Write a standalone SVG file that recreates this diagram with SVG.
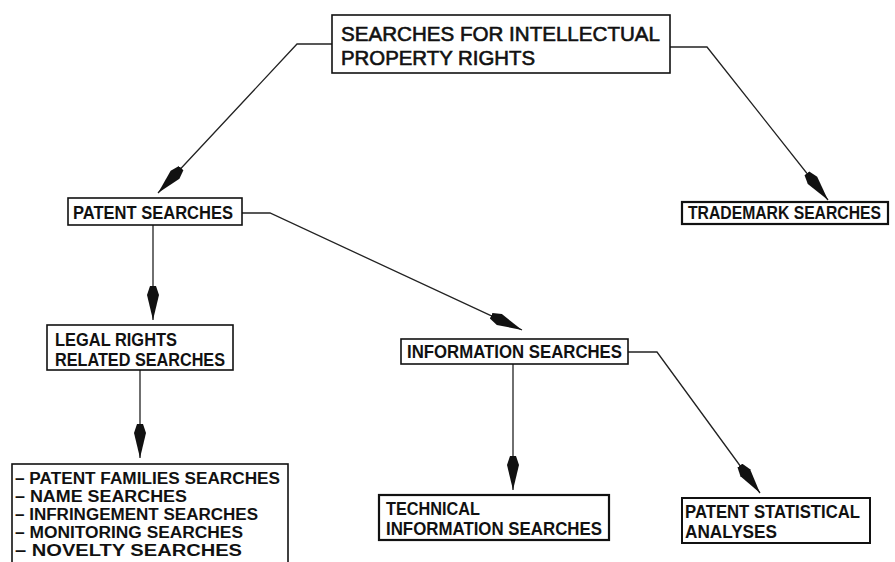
<svg xmlns="http://www.w3.org/2000/svg" width="895" height="562" viewBox="0 0 895 562">
  <style>
    .box { fill: #ffffff; stroke: #111; stroke-width: 1.6; }
    .lbl { font-family: "Liberation Sans", "DejaVu Sans", sans-serif; font-weight: bold; fill: #111; font-size: 18px; }
    .title { font-size: 20px; font-weight: normal; stroke: #111; stroke-width: 0.6; }
    .list { font-size: 16px; }
    .edge { fill: none; stroke: #222; stroke-width: 1.3; }
  </style>
  <defs>
    <marker id="spear" markerUnits="userSpaceOnUse" markerWidth="36" markerHeight="14" refX="34" refY="6.5" orient="auto">
      <path d="M0,3.5 L9,0.5 L34,6.5 L9,12.5 L0,9.5 Z" fill="#111"/>
    </marker>
  </defs>
  <rect width="895" height="562" fill="#ffffff"/>

  <!-- connectors -->
  <g id="connectors">
    <polyline class="edge" points="332,44 297,44 158,193" marker-end="url(#spear)"/>
    <polyline class="edge" points="670,47 707,47 828,200" marker-end="url(#spear)"/>
    <polyline class="edge" points="242,213 270,213 522,330" marker-end="url(#spear)"/>
    <polyline class="edge" points="153,225 153,320" marker-end="url(#spear)"/>
    <polyline class="edge" points="140,370 140,458" marker-end="url(#spear)"/>
    <polyline class="edge" points="513,364 513,490" marker-end="url(#spear)"/>
    <polyline class="edge" points="628,352 657,352 760,493" marker-end="url(#spear)"/>
  </g>

  <!-- root -->
  <g id="ipr-searches">
    <rect class="box" x="332" y="15" width="338" height="58"/>
    <text class="lbl title" x="341" y="41" textLength="319" lengthAdjust="spacingAndGlyphs">SEARCHES FOR INTELLECTUAL</text>
    <text class="lbl title" x="341" y="65" textLength="194" lengthAdjust="spacingAndGlyphs">PROPERTY RIGHTS</text>
  </g>

  <g id="patent-searches">
    <rect class="box" x="68" y="198" width="174" height="27"/>
    <text class="lbl" x="73" y="219" textLength="160" lengthAdjust="spacingAndGlyphs">PATENT SEARCHES</text>
  </g>

  <g id="trademark-searches">
    <rect class="box" x="682" y="202" width="206" height="22" style="stroke-width:2.2"/>
    <text class="lbl" x="688" y="219" font-size="16" textLength="193" lengthAdjust="spacingAndGlyphs">TRADEMARK SEARCHES</text>
  </g>

  <g id="legal-rights">
    <rect class="box" x="47" y="325" width="186" height="45"/>
    <text class="lbl" x="55" y="346" textLength="122" lengthAdjust="spacingAndGlyphs">LEGAL RIGHTS</text>
    <text class="lbl" x="55" y="366" textLength="170" lengthAdjust="spacingAndGlyphs">RELATED SEARCHES</text>
  </g>

  <g id="information-searches">
    <rect class="box" x="401" y="339" width="227" height="25"/>
    <text class="lbl" x="407" y="358" textLength="215" lengthAdjust="spacingAndGlyphs">INFORMATION SEARCHES</text>
  </g>

  <g id="legal-search-types">
    <rect class="box" x="12" y="464" width="276" height="110"/>
    <text class="lbl list" x="15" y="484" textLength="265" lengthAdjust="spacingAndGlyphs">– PATENT FAMILIES SEARCHES</text>
    <text class="lbl list" x="15" y="502" textLength="172" lengthAdjust="spacingAndGlyphs">– NAME SEARCHES</text>
    <text class="lbl list" x="15" y="520" textLength="243" lengthAdjust="spacingAndGlyphs">– INFRINGEMENT SEARCHES</text>
    <text class="lbl list" x="15" y="538" textLength="228" lengthAdjust="spacingAndGlyphs">– MONITORING SEARCHES</text>
    <text class="lbl list" x="15" y="556" textLength="227" lengthAdjust="spacingAndGlyphs">– NOVELTY SEARCHES</text>
  </g>

  <g id="technical-information">
    <rect class="box" x="379" y="495" width="230" height="45" style="stroke-width:2.2"/>
    <text class="lbl" x="386" y="515" textLength="94" lengthAdjust="spacingAndGlyphs">TECHNICAL</text>
    <text class="lbl" x="386" y="535" textLength="216" lengthAdjust="spacingAndGlyphs">INFORMATION SEARCHES</text>
  </g>

  <g id="patent-statistical">
    <rect class="box" x="682" y="498" width="188" height="45" style="stroke-width:2"/>
    <text class="lbl" x="685" y="518" textLength="175" lengthAdjust="spacingAndGlyphs">PATENT STATISTICAL</text>
    <text class="lbl" x="685" y="538" textLength="92" lengthAdjust="spacingAndGlyphs">ANALYSES</text>
  </g>
</svg>
